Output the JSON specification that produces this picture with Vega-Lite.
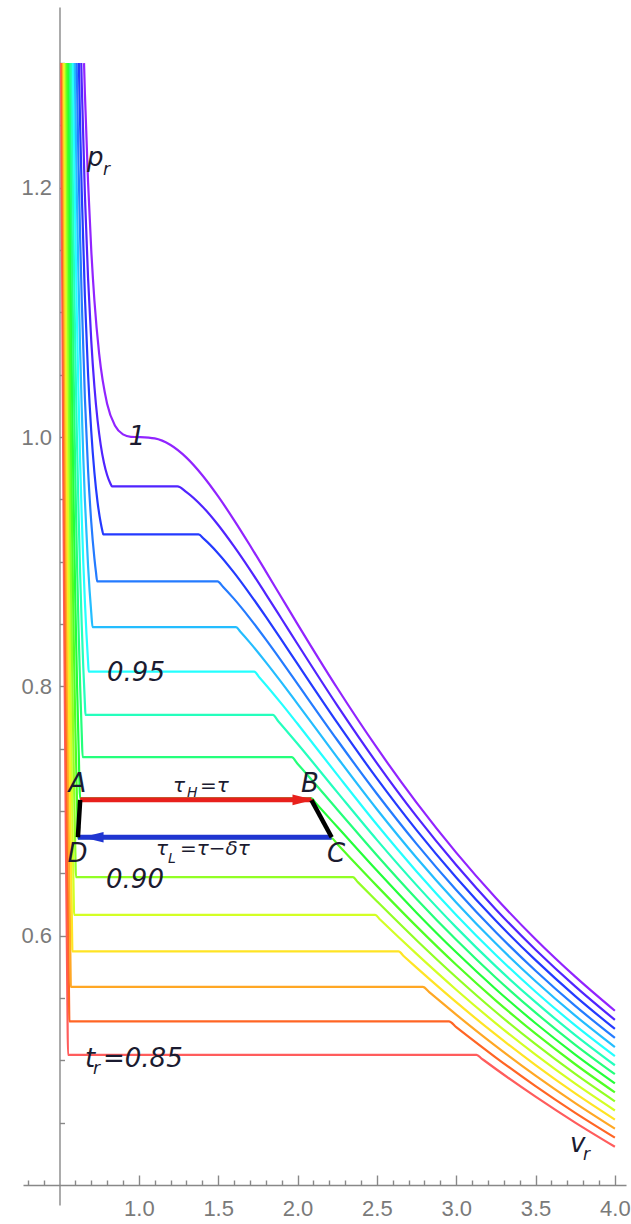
{
  "$schema": "https://vega.github.io/schema/vega-lite/v6.json",
  "width": 603,
  "height": 1198,
  "autosize": {"type": "none"},
  "padding": {"left": 23, "top": 7, "right": 5, "bottom": 19},
  "background": "white",
  "config": {
    "view": {"stroke": null},
    "axis": {"domainColor": "#888888", "tickColor": "#888888", "labelColor": "#7a7a7a", "labelFont": "Liberation Sans", "labelFontSize": 22, "grid": false, "domainWidth": 1.4, "tickWidth": 1.4, "labelOverlap": false, "labelFlush": false, "labelBound": false}
  },
  "encoding": {
    "x": {"field": "v", "type": "quantitative", "title": null,
      "scale": {"domain": [0.27, 4.07], "nice": false, "zero": false},
      "axis": {"orient": "bottom", "offset": -20,
        "values": [0.3,0.4,0.6,0.7,0.8,0.9,1.0,1.1,1.2,1.3,1.4,1.5,1.6,1.7,1.8,1.9,2.0,2.1,2.2,2.3,2.4,2.5,2.6,2.7,2.8,2.9,3.0,3.1,3.2,3.3,3.4,3.5,3.6,3.7,3.8,3.9,4.0],
        "labelExpr": "abs(datum.value*2-round(datum.value*2))<0.001 ? format(datum.value,'.1f') : ''",
        "tickSize": {"condition": {"test": "abs(datum.value*2-round(datum.value*2))<0.001", "value": -10}, "value": -5},
        "labelPadding": 23}},
    "y": {"field": "p", "type": "quantitative", "title": null,
      "scale": {"domain": [0.384, 1.345], "nice": false, "zero": false},
      "axis": {"orient": "left", "offset": -36.5,
        "values": [0.45,0.5,0.55,0.6,0.65,0.7,0.75,0.8,0.85,0.9,0.95,1.0,1.05,1.1,1.15,1.2,1.25,1.3],
        "labelExpr": "abs(datum.value*5-round(datum.value*5))<0.001 ? format(datum.value,'.1f') : ''",
        "tickSize": {"condition": {"test": "abs(datum.value*5-round(datum.value*5))<0.001", "value": -10}, "value": -5},
        "labelPadding": 18}}
  },
  "layer": [
    {
      "data": {"values": [
        {"t":"0.85","v":0.5099,"p":1.3},{"t":"0.85","v":0.52,"p":1.0482},{"t":"0.85","v":0.53,"p":0.8454},{"t":"0.85","v":0.54,"p":0.6796},{"t":"0.85","v":0.55,"p":0.5441},{"t":"0.85","v":0.5534,"p":0.5045},{"t":"0.85","v":3.128,"p":0.5045},{"t":"0.85","v":3.16,"p":0.5015},{"t":"0.85","v":3.25,"p":0.4931},{"t":"0.85","v":3.5,"p":0.4709},{"t":"0.85","v":3.75,"p":0.4501},{"t":"0.85","v":4.0,"p":0.4307},
        {"t":"0.86","v":0.5155,"p":1.3},{"t":"0.86","v":0.52,"p":1.191},{"t":"0.86","v":0.53,"p":0.981},{"t":"0.86","v":0.54,"p":0.8087},{"t":"0.86","v":0.55,"p":0.6672},{"t":"0.86","v":0.56,"p":0.5513},{"t":"0.86","v":0.5621,"p":0.5313},{"t":"0.86","v":2.954,"p":0.5313},{"t":"0.86","v":3.0,"p":0.5267},{"t":"0.86","v":3.25,"p":0.5023},{"t":"0.86","v":3.5,"p":0.4793},{"t":"0.86","v":3.75,"p":0.4579},{"t":"0.86","v":4.0,"p":0.438},
        {"t":"0.87","v":0.5216,"p":1.3},{"t":"0.87","v":0.53,"p":1.1166},{"t":"0.87","v":0.54,"p":0.9377},{"t":"0.87","v":0.55,"p":0.7903},{"t":"0.87","v":0.56,"p":0.669},{"t":"0.87","v":0.57,"p":0.5692},{"t":"0.87","v":0.5713,"p":0.5589},{"t":"0.87","v":2.79,"p":0.5589},{"t":"0.87","v":2.83,"p":0.5547},{"t":"0.87","v":3.0,"p":0.5367},{"t":"0.87","v":3.25,"p":0.5114},{"t":"0.87","v":3.5,"p":0.4877},{"t":"0.87","v":3.75,"p":0.4657},{"t":"0.87","v":4.0,"p":0.4452},
        {"t":"0.88","v":0.5279,"p":1.3},{"t":"0.88","v":0.54,"p":1.0667},{"t":"0.88","v":0.55,"p":0.9134},{"t":"0.88","v":0.56,"p":0.7866},{"t":"0.88","v":0.57,"p":0.6819},{"t":"0.88","v":0.58,"p":0.5955},{"t":"0.88","v":0.5811,"p":0.5874},{"t":"0.88","v":2.636,"p":0.5874},{"t":"0.88","v":2.67,"p":0.5835},{"t":"0.88","v":2.75,"p":0.5744},{"t":"0.88","v":3.0,"p":0.5467},{"t":"0.88","v":3.25,"p":0.5206},{"t":"0.88","v":3.5,"p":0.4962},{"t":"0.88","v":3.75,"p":0.4735},{"t":"0.88","v":4.0,"p":0.4525},
        {"t":"0.89","v":0.5346,"p":1.3},{"t":"0.89","v":0.54,"p":1.1958},{"t":"0.89","v":0.55,"p":1.0364},{"t":"0.89","v":0.56,"p":0.9043},{"t":"0.89","v":0.57,"p":0.7946},{"t":"0.89","v":0.58,"p":0.7036},{"t":"0.89","v":0.59,"p":0.6285},{"t":"0.89","v":0.5919,"p":0.6168},{"t":"0.89","v":2.489,"p":0.6168},{"t":"0.89","v":2.52,"p":0.613},{"t":"0.89","v":2.75,"p":0.5854},{"t":"0.89","v":3.0,"p":0.5567},{"t":"0.89","v":3.25,"p":0.5297},{"t":"0.89","v":3.5,"p":0.5046},{"t":"0.89","v":3.75,"p":0.4813},{"t":"0.89","v":4.0,"p":0.4598},
        {"t":"0.90","v":0.5415,"p":1.3},{"t":"0.90","v":0.55,"p":1.1595},{"t":"0.90","v":0.56,"p":1.0219},{"t":"0.90","v":0.57,"p":0.9072},{"t":"0.90","v":0.58,"p":0.8117},{"t":"0.90","v":0.59,"p":0.7324},{"t":"0.90","v":0.6,"p":0.6667},{"t":"0.90","v":0.6036,"p":0.647},{"t":"0.90","v":2.349,"p":0.647},{"t":"0.90","v":2.38,"p":0.643},{"t":"0.90","v":2.5,"p":0.6277},{"t":"0.90","v":2.75,"p":0.5964},{"t":"0.90","v":3.0,"p":0.5667},{"t":"0.90","v":3.25,"p":0.5388},{"t":"0.90","v":3.5,"p":0.513},{"t":"0.90","v":3.75,"p":0.4891},{"t":"0.90","v":4.0,"p":0.4671},
        {"t":"0.91","v":0.5488,"p":1.3},{"t":"0.91","v":0.56,"p":1.1396},{"t":"0.91","v":0.57,"p":1.0199},{"t":"0.91","v":0.58,"p":0.9198},{"t":"0.91","v":0.59,"p":0.8363},{"t":"0.91","v":0.6,"p":0.7667},{"t":"0.91","v":0.61,"p":0.7087},{"t":"0.91","v":0.6161,"p":0.6782},{"t":"0.91","v":2.215,"p":0.6782},{"t":"0.91","v":2.25,"p":0.6735},{"t":"0.91","v":2.5,"p":0.64},{"t":"0.91","v":2.75,"p":0.6075},{"t":"0.91","v":3.0,"p":0.5767},{"t":"0.91","v":3.25,"p":0.548},{"t":"0.91","v":3.5,"p":0.5214},{"t":"0.91","v":3.75,"p":0.4969},{"t":"0.91","v":4.0,"p":0.4743},
        {"t":"0.92","v":0.5571,"p":1.3},{"t":"0.92","v":0.56,"p":1.2572},{"t":"0.92","v":0.57,"p":1.1326},{"t":"0.92","v":0.58,"p":1.0279},{"t":"0.92","v":0.59,"p":0.9402},{"t":"0.92","v":0.6,"p":0.8667},{"t":"0.92","v":0.61,"p":0.8051},{"t":"0.92","v":0.62,"p":0.7537},{"t":"0.92","v":0.6302,"p":0.7102},{"t":"0.92","v":2.087,"p":0.7102},{"t":"0.92","v":2.12,"p":0.7056},{"t":"0.92","v":2.25,"p":0.6874},{"t":"0.92","v":2.5,"p":0.6523},{"t":"0.92","v":2.75,"p":0.6185},{"t":"0.92","v":3.0,"p":0.5867},{"t":"0.92","v":3.25,"p":0.5571},{"t":"0.92","v":3.5,"p":0.5298},{"t":"0.92","v":3.75,"p":0.5047},{"t":"0.92","v":4.0,"p":0.4816},
        {"t":"0.93","v":0.5658,"p":1.3},{"t":"0.93","v":0.57,"p":1.2453},{"t":"0.93","v":0.58,"p":1.1361},{"t":"0.93","v":0.59,"p":1.0441},{"t":"0.93","v":0.6,"p":0.9667},{"t":"0.93","v":0.61,"p":0.9015},{"t":"0.93","v":0.62,"p":0.8467},{"t":"0.93","v":0.63,"p":0.801},{"t":"0.93","v":0.64,"p":0.7628},{"t":"0.93","v":0.6459,"p":0.7432},{"t":"0.93","v":1.963,"p":0.7432},{"t":"0.93","v":2.0,"p":0.738},{"t":"0.93","v":2.25,"p":0.7013},{"t":"0.93","v":2.5,"p":0.6646},{"t":"0.93","v":2.75,"p":0.6295},{"t":"0.93","v":3.0,"p":0.5967},{"t":"0.93","v":3.25,"p":0.5663},{"t":"0.93","v":3.5,"p":0.5383},{"t":"0.93","v":3.75,"p":0.5125},{"t":"0.93","v":4.0,"p":0.4889},
        {"t":"0.94","v":0.5751,"p":1.3},{"t":"0.94","v":0.58,"p":1.2442},{"t":"0.94","v":0.59,"p":1.148},{"t":"0.94","v":0.6,"p":1.0667},{"t":"0.94","v":0.61,"p":0.9979},{"t":"0.94","v":0.62,"p":0.9398},{"t":"0.94","v":0.63,"p":0.8909},{"t":"0.94","v":0.64,"p":0.8497},{"t":"0.94","v":0.65,"p":0.8152},{"t":"0.94","v":0.66,"p":0.7864},{"t":"0.94","v":0.6639,"p":0.7771},{"t":"0.94","v":1.844,"p":0.7771},{"t":"0.94","v":1.88,"p":0.7719},{"t":"0.94","v":2.0,"p":0.754},{"t":"0.94","v":2.25,"p":0.7152},{"t":"0.94","v":2.5,"p":0.6769},{"t":"0.94","v":2.75,"p":0.6406},{"t":"0.94","v":3.0,"p":0.6067},{"t":"0.94","v":3.25,"p":0.5754},{"t":"0.94","v":3.5,"p":0.5467},{"t":"0.94","v":3.75,"p":0.5203},{"t":"0.94","v":4.0,"p":0.4961},
        {"t":"0.95","v":0.5852,"p":1.3},{"t":"0.95","v":0.59,"p":1.2519},{"t":"0.95","v":0.6,"p":1.1667},{"t":"0.95","v":0.61,"p":1.0942},{"t":"0.95","v":0.62,"p":1.0328},{"t":"0.95","v":0.63,"p":0.9807},{"t":"0.95","v":0.64,"p":0.9367},{"t":"0.95","v":0.65,"p":0.8994},{"t":"0.95","v":0.66,"p":0.868},{"t":"0.95","v":0.67,"p":0.8418},{"t":"0.95","v":0.68,"p":0.8198},{"t":"0.95","v":0.6841,"p":0.8119},{"t":"0.95","v":1.727,"p":0.8119},{"t":"0.95","v":1.76,"p":0.8072},{"t":"0.95","v":1.9,"p":0.786},{"t":"0.95","v":2.0,"p":0.77},{"t":"0.95","v":2.25,"p":0.7292},{"t":"0.95","v":2.5,"p":0.6892},{"t":"0.95","v":2.75,"p":0.6516},{"t":"0.95","v":3.0,"p":0.6167},{"t":"0.95","v":3.25,"p":0.5846},{"t":"0.95","v":3.5,"p":0.5551},{"t":"0.95","v":3.75,"p":0.5281},{"t":"0.95","v":4.0,"p":0.5034},
        {"t":"0.96","v":0.5963,"p":1.3},{"t":"0.96","v":0.6,"p":1.2667},{"t":"0.96","v":0.61,"p":1.1906},{"t":"0.96","v":0.62,"p":1.1258},{"t":"0.96","v":0.63,"p":1.0706},{"t":"0.96","v":0.64,"p":1.0236},{"t":"0.96","v":0.65,"p":0.9836},{"t":"0.96","v":0.66,"p":0.9496},{"t":"0.96","v":0.68,"p":0.8967},{"t":"0.96","v":0.7,"p":0.8594},{"t":"0.96","v":0.7083,"p":0.8476},{"t":"0.96","v":1.612,"p":0.8476},{"t":"0.96","v":1.64,"p":0.8438},{"t":"0.96","v":1.7,"p":0.8351},{"t":"0.96","v":1.8,"p":0.8195},{"t":"0.96","v":1.9,"p":0.803},{"t":"0.96","v":2.0,"p":0.786},{"t":"0.96","v":2.25,"p":0.7431},{"t":"0.96","v":2.5,"p":0.7015},{"t":"0.96","v":2.75,"p":0.6626},{"t":"0.96","v":3.0,"p":0.6267},{"t":"0.96","v":3.25,"p":0.5937},{"t":"0.96","v":3.5,"p":0.5635},{"t":"0.96","v":3.75,"p":0.5359},{"t":"0.96","v":4.0,"p":0.5107},
        {"t":"0.97","v":0.6082,"p":1.3},{"t":"0.97","v":0.62,"p":1.2189},{"t":"0.97","v":0.63,"p":1.1605},{"t":"0.97","v":0.64,"p":1.1106},{"t":"0.97","v":0.66,"p":1.0313},{"t":"0.97","v":0.68,"p":0.9736},{"t":"0.97","v":0.7,"p":0.9321},{"t":"0.97","v":0.72,"p":0.9027},{"t":"0.97","v":0.73,"p":0.8914},{"t":"0.97","v":0.7377,"p":0.8843},{"t":"0.97","v":1.496,"p":0.8843},{"t":"0.97","v":1.53,"p":0.88},{"t":"0.97","v":1.6,"p":0.8702},{"t":"0.97","v":1.7,"p":0.8546},{"t":"0.97","v":1.8,"p":0.8377},{"t":"0.97","v":1.9,"p":0.8201},{"t":"0.97","v":2.0,"p":0.802},{"t":"0.97","v":2.25,"p":0.757},{"t":"0.97","v":2.5,"p":0.7139},{"t":"0.97","v":2.75,"p":0.6737},{"t":"0.97","v":3.0,"p":0.6367},{"t":"0.97","v":3.25,"p":0.6028},{"t":"0.97","v":3.5,"p":0.5719},{"t":"0.97","v":3.75,"p":0.5437},{"t":"0.97","v":4.0,"p":0.518},
        {"t":"0.98","v":0.6219,"p":1.3},{"t":"0.98","v":0.63,"p":1.2504},{"t":"0.98","v":0.64,"p":1.1975},{"t":"0.98","v":0.66,"p":1.1129},{"t":"0.98","v":0.68,"p":1.0506},{"t":"0.98","v":0.7,"p":1.0049},{"t":"0.98","v":0.72,"p":0.9716},{"t":"0.98","v":0.74,"p":0.9477},{"t":"0.98","v":0.76,"p":0.9311},{"t":"0.98","v":0.77,"p":0.9249},{"t":"0.98","v":0.7758,"p":0.9219},{"t":"0.98","v":1.376,"p":0.9219},{"t":"0.98","v":1.41,"p":0.9183},{"t":"0.98","v":1.5,"p":0.9067},{"t":"0.98","v":1.6,"p":0.8913},{"t":"0.98","v":1.7,"p":0.8741},{"t":"0.98","v":1.8,"p":0.8559},{"t":"0.98","v":1.9,"p":0.8371},{"t":"0.98","v":2.0,"p":0.818},{"t":"0.98","v":2.25,"p":0.7709},{"t":"0.98","v":2.5,"p":0.7262},{"t":"0.98","v":2.75,"p":0.6847},{"t":"0.98","v":3.0,"p":0.6467},{"t":"0.98","v":3.25,"p":0.612},{"t":"0.98","v":3.5,"p":0.5804},{"t":"0.98","v":3.75,"p":0.5516},{"t":"0.98","v":4.0,"p":0.5252},
        {"t":"0.99","v":0.6372,"p":1.3},{"t":"0.99","v":0.64,"p":1.2845},{"t":"0.99","v":0.66,"p":1.1945},{"t":"0.99","v":0.68,"p":1.1275},{"t":"0.99","v":0.7,"p":1.0776},{"t":"0.99","v":0.72,"p":1.0406},{"t":"0.99","v":0.74,"p":1.0133},{"t":"0.99","v":0.76,"p":0.9936},{"t":"0.99","v":0.78,"p":0.9794},{"t":"0.99","v":0.8,"p":0.9696},{"t":"0.99","v":0.82,"p":0.963},{"t":"0.99","v":0.831,"p":0.9605},{"t":"0.99","v":1.243,"p":0.9605},{"t":"0.99","v":1.3,"p":0.9559},{"t":"0.99","v":1.4,"p":0.9444},{"t":"0.99","v":1.5,"p":0.9295},{"t":"0.99","v":1.6,"p":0.9123},{"t":"0.99","v":1.7,"p":0.8937},{"t":"0.99","v":1.8,"p":0.8741},{"t":"0.99","v":1.9,"p":0.8541},{"t":"0.99","v":2.0,"p":0.834},{"t":"0.99","v":2.25,"p":0.7848},{"t":"0.99","v":2.5,"p":0.7385},{"t":"0.99","v":2.75,"p":0.6957},{"t":"0.99","v":3.0,"p":0.6567},{"t":"0.99","v":3.25,"p":0.6211},{"t":"0.99","v":3.5,"p":0.5888},{"t":"0.99","v":3.75,"p":0.5594},{"t":"0.99","v":4.0,"p":0.5325},
        {"t":"1.00","v":0.6546,"p":1.3},{"t":"1.00","v":0.66,"p":1.2762},{"t":"1.00","v":0.68,"p":1.2044},{"t":"1.00","v":0.7,"p":1.1503},{"t":"1.00","v":0.72,"p":1.1096},{"t":"1.00","v":0.75,"p":1.0667},{"t":"1.00","v":0.8,"p":1.0268},{"t":"1.00","v":0.85,"p":1.0091},{"t":"1.00","v":0.9,"p":1.0022},{"t":"1.00","v":0.95,"p":1.0002},{"t":"1.00","v":1.0,"p":1.0},{"t":"1.00","v":1.1,"p":0.9989},{"t":"1.00","v":1.2,"p":0.9936},{"t":"1.00","v":1.3,"p":0.9835},{"t":"1.00","v":1.4,"p":0.9694},{"t":"1.00","v":1.5,"p":0.9524},{"t":"1.00","v":1.6,"p":0.9334},{"t":"1.00","v":1.7,"p":0.9132},{"t":"1.00","v":1.8,"p":0.8923},{"t":"1.00","v":1.9,"p":0.8711},{"t":"1.00","v":2.0,"p":0.85},{"t":"1.00","v":2.25,"p":0.7987},{"t":"1.00","v":2.5,"p":0.7508},{"t":"1.00","v":2.75,"p":0.7068},{"t":"1.00","v":3.0,"p":0.6667},{"t":"1.00","v":3.25,"p":0.6303},{"t":"1.00","v":3.5,"p":0.5972},{"t":"1.00","v":3.75,"p":0.5672},{"t":"1.00","v":4.0,"p":0.5398}
      ]},
      "mark": {"type": "line", "interpolate": "monotone", "strokeWidth": 2.2},
      "encoding": {
        "color": {"field": "t", "type": "nominal", "legend": null,
          "scale": {"domain": ["0.85","0.86","0.87","0.88","0.89","0.90","0.91","0.92","0.93","0.94","0.95","0.96","0.97","0.98","0.99","1.00"],
            "range": ["#ff5c5c","#ff6524","#ffa724","#ffe424","#d3ff24","#91ff24","#50ff24","#24ff3a","#24ff7b","#24ffbd","#24ffff","#24bdff","#247bff","#243aff","#5024ff","#9124ff"]}}
      }
    },
    {
      "data": {"values": [{"v": 0.6302, "p": 0.709}, {"v": 2.087, "p": 0.709}]},
      "mark": {"type": "line", "color": "#e8201c", "strokeWidth": 5},
      "encoding": {}
    },
    {
      "data": {"values": [{"v": 0.6161, "p": 0.679}, {"v": 2.215, "p": 0.679}]},
      "mark": {"type": "line", "color": "#1f35d1", "strokeWidth": 5},
      "encoding": {}
    },
    {
      "data": {"values": [{"seg": "AD", "v": 0.6161, "p": 0.679}, {"seg": "AD", "v": 0.6302, "p": 0.709}, {"seg": "BC", "v": 2.087, "p": 0.709}, {"seg": "BC", "v": 2.215, "p": 0.679}]},
      "mark": {"type": "line", "color": "#000000", "strokeWidth": 4.5},
      "encoding": {"detail": {"field": "seg", "type": "nominal"}}
    },
    {
      "data": {"values": [{"v": 2.035, "p": 0.709}]},
      "mark": {"type": "point", "shape": "M-1,-0.5L1,0L-1,0.5Z", "filled": true, "color": "#e8201c", "size": 450, "opacity": 1, "strokeWidth": 0}
    },
    {
      "data": {"values": [{"v": 0.711, "p": 0.679}]},
      "mark": {"type": "point", "shape": "M1,-0.5L-1,0L1,0.5Z", "filled": true, "color": "#1f35d1", "size": 450, "opacity": 1, "strokeWidth": 0}
    },
    {
      "data": {"values": [
        {"v": 0.6733, "p": 1.2175, "label": "p"},
        {"v": 0.6607, "p": 0.4948, "label": "t"},
        {"v": 0.7742, "p": 0.4948, "label": "=0.85"},
        {"v": 3.717, "p": 0.4266, "label": "v"}
      ]},
      "mark": {"type": "text", "align": "left", "baseline": "alphabetic", "font": "DejaVu Sans", "fontStyle": "italic", "fontSize": 26, "color": "#1b1b30"},
      "encoding": {"text": {"field": "label"}}
    },
    {
      "data": {"values": [
        {"v": 0.9884, "p": 0.9937, "label": "1"},
        {"v": 0.982, "p": 0.8044, "label": "0.95"},
        {"v": 0.9758, "p": 0.6383, "label": "0.90"},
        {"v": 0.6134, "p": 0.7153, "label": "A"},
        {"v": 2.0787, "p": 0.7153, "label": "B"},
        {"v": 2.2425, "p": 0.6594, "label": "C"},
        {"v": 0.6134, "p": 0.6594, "label": "D"}
      ]},
      "mark": {"type": "text", "align": "center", "baseline": "alphabetic", "font": "DejaVu Sans", "fontStyle": "italic", "fontSize": 26, "color": "#1b1b30"},
      "encoding": {"text": {"field": "label"}}
    },
    {
      "data": {"values": [
        {"v": 0.7742, "p": 1.2102, "label": "r"},
        {"v": 0.7111, "p": 0.4891, "label": "r"},
        {"v": 3.799, "p": 0.4202, "label": "r"}
      ]},
      "mark": {"type": "text", "align": "left", "baseline": "alphabetic", "font": "DejaVu Sans", "fontStyle": "italic", "fontSize": 17, "color": "#1b1b30"},
      "encoding": {"text": {"field": "label"}}
    },
    {
      "data": {"values": [
        {"v": 1.2153, "p": 0.7153, "label": "τ"},
        {"v": 1.3855, "p": 0.7153, "label": "=τ"},
        {"v": 1.108, "p": 0.6648, "label": "τ"},
        {"v": 1.2594, "p": 0.6648, "label": "=τ−δτ"}
      ]},
      "mark": {"type": "text", "align": "left", "baseline": "alphabetic", "font": "DejaVu Sans", "fontStyle": "italic", "fontSize": 20, "color": "#1b1b30"},
      "encoding": {"text": {"field": "label"}}
    },
    {
      "data": {"values": [
        {"v": 1.3035, "p": 0.7113, "label": "H"},
        {"v": 1.1838, "p": 0.6584, "label": "L"}
      ]},
      "mark": {"type": "text", "align": "left", "baseline": "alphabetic", "font": "DejaVu Sans", "fontStyle": "italic", "fontSize": 14, "color": "#1b1b30"},
      "encoding": {"text": {"field": "label"}}
    }
  ]
}
